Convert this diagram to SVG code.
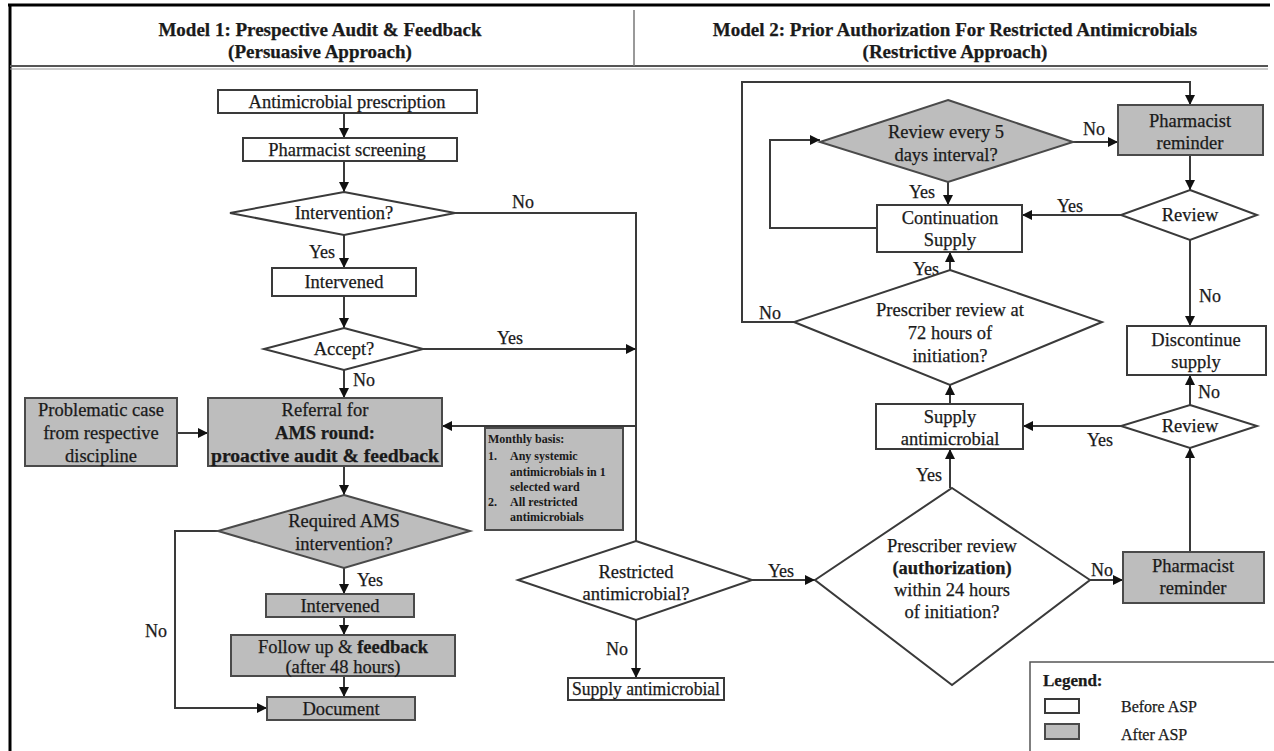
<svg xmlns="http://www.w3.org/2000/svg" width="1274" height="751" viewBox="0 0 1274 751">
<style>
  text{font-family:"Liberation Serif","Times New Roman",serif;fill:#1a1a1a;stroke:#1a1a1a;stroke-width:0.25}
  .t{font-size:18.5px;text-anchor:middle}
  .h{font-size:19px;font-weight:bold;text-anchor:middle}
  .lb{font-size:18px;text-anchor:middle}
  .s{font-size:12px;font-weight:bold;stroke-width:0}
  .b{font-weight:bold}
  .w{fill:#ffffff;stroke:#3a3a3a;stroke-width:2}
  .g{fill:#bdbdbd;stroke:#4a4a4a;stroke-width:2}
  .c{fill:none;stroke:#3a3a3a;stroke-width:2}
</style>
<defs>
  <marker id="ah" viewBox="0 0 10 10" refX="10" refY="5" markerWidth="5" markerHeight="5" orient="auto">
    <path d="M0,0 L10,5 L0,10 z" fill="#111"/>
  </marker>
</defs>
<rect x="0" y="0" width="1274" height="751" fill="#ffffff"/>
<g id="frame">
  <line x1="8" y1="5" x2="1270" y2="5" stroke="#000" stroke-width="3"/>
  <line x1="10" y1="5" x2="10" y2="751" stroke="#000" stroke-width="3"/>
  <line x1="10" y1="66" x2="1268" y2="66" stroke="#555" stroke-width="2"/>
  <line x1="10" y1="69" x2="1268" y2="69" stroke="#999" stroke-width="1"/>
  <line x1="634" y1="10" x2="634" y2="66" stroke="#777" stroke-width="1.5"/>
</g>
<g id="header1">
  <text class="h" x="320" y="36">Model 1: Prespective Audit &amp; Feedback</text>
  <text class="h" x="320" y="58">(Persuasive Approach)</text>
</g>
<g id="header2">
  <text class="h" x="955" y="36">Model 2: Prior Authorization For Restricted Antimicrobials</text>
  <text class="h" x="955" y="58">(Restrictive Approach)</text>
</g>

<g id="connectors">
  <path class="c" d="M344,113 V138" marker-end="url(#ah)"/>
  <path class="c" d="M344,161 V192" marker-end="url(#ah)"/>
  <path class="c" d="M344,235 V268" marker-end="url(#ah)"/>
  <path class="c" d="M455,213 H636 V541"/>
  <path class="c" d="M344,296 V328" marker-end="url(#ah)"/>
  <path class="c" d="M423,349 H636" marker-end="url(#ah)"/>
  <path class="c" d="M344,370 V398" marker-end="url(#ah)"/>
  <path class="c" d="M636,426 H442" marker-end="url(#ah)"/>
  <path class="c" d="M177,433 H208" marker-end="url(#ah)"/>
  <path class="c" d="M344,466 V495" marker-end="url(#ah)"/>
  <path class="c" d="M344,568 V594" marker-end="url(#ah)"/>
  <path class="c" d="M344,617 V635" marker-end="url(#ah)"/>
  <path class="c" d="M344,676 V697" marker-end="url(#ah)"/>
  <path class="c" d="M218,531 H175 V708 H267" marker-end="url(#ah)"/>
  <path class="c" d="M752,580 H815" marker-end="url(#ah)"/>
  <path class="c" d="M636,620 V678" marker-end="url(#ah)"/>
  <path class="c" d="M1090,580 H1123" marker-end="url(#ah)"/>
  <path class="c" d="M1190,552 V448" marker-end="url(#ah)"/>
  <path class="c" d="M1121,426 H1023" marker-end="url(#ah)"/>
  <path class="c" d="M1190,405 V375" marker-end="url(#ah)"/>
  <path class="c" d="M950,488 V449" marker-end="url(#ah)"/>
  <path class="c" d="M950,404 V385" marker-end="url(#ah)"/>
  <path class="c" d="M950,270 V252" marker-end="url(#ah)"/>
  <path class="c" d="M948,182 V205" marker-end="url(#ah)"/>
  <path class="c" d="M877,228 H770 V140 H820" marker-end="url(#ah)"/>
  <path class="c" d="M1073,142 H1118" marker-end="url(#ah)"/>
  <path class="c" d="M1190,155 V190" marker-end="url(#ah)"/>
  <path class="c" d="M1121,215 H1022" marker-end="url(#ah)"/>
  <path class="c" d="M1190,240 V326" marker-end="url(#ah)"/>
  <path class="c" d="M794,322 H742 V82 H1190 V105" marker-end="url(#ah)"/>
</g>

<g id="labels">
  <text class="lb" x="523" y="208">No</text>
  <text class="lb" x="322" y="258">Yes</text>
  <text class="lb" x="510" y="344">Yes</text>
  <text class="lb" x="364" y="386">No</text>
  <text class="lb" x="370" y="586">Yes</text>
  <text class="lb" x="156" y="637">No</text>
  <text class="lb" x="781" y="577">Yes</text>
  <text class="lb" x="617" y="655">No</text>
  <text class="lb" x="1102" y="576">No</text>
  <text class="lb" x="929" y="481">Yes</text>
  <text class="lb" x="1100" y="446">Yes</text>
  <text class="lb" x="1209" y="398">No</text>
  <text class="lb" x="926" y="275">Yes</text>
  <text class="lb" x="922" y="198">Yes</text>
  <text class="lb" x="1094" y="135">No</text>
  <text class="lb" x="1070" y="212">Yes</text>
  <text class="lb" x="1210" y="302">No</text>
  <text class="lb" x="770" y="319">No</text>
</g>

<g id="n-prescription">
  <rect class="w" x="218" y="90" width="259" height="23"/>
  <text class="t" x="347" y="108">Antimicrobial prescription</text>
</g>
<g id="n-screening">
  <rect class="w" x="243" y="138" width="214" height="23"/>
  <text class="t" x="347" y="156">Pharmacist screening</text>
</g>
<g id="n-intervention">
  <polygon class="w" points="344,192 455,213 344,235 230,213"/>
  <text class="t" x="344" y="219">Intervention?</text>
</g>
<g id="n-intervened1">
  <rect class="w" x="272" y="268" width="144" height="28"/>
  <text class="t" x="344" y="288">Intervened</text>
</g>
<g id="n-accept">
  <polygon class="w" points="344,328 423,349 344,370 264,349"/>
  <text class="t" x="344" y="355">Accept?</text>
</g>
<g id="n-problematic">
  <rect class="g" x="25" y="398" width="152" height="68"/>
  <text class="t" x="101" y="416">Problematic case</text>
  <text class="t" x="101" y="439">from respective</text>
  <text class="t" x="101" y="462">discipline</text>
</g>
<g id="n-referral">
  <rect class="g" x="208" y="398" width="234" height="68"/>
  <text class="t" x="325" y="416">Referral for</text>
  <text class="t b" x="325" y="439">AMS round:</text>
  <text class="t b" x="325" y="462" textLength="228" lengthAdjust="spacingAndGlyphs">proactive audit &amp; feedback</text>
</g>
<g id="n-monthly">
  <rect class="g" x="485" y="428" width="138" height="102" stroke-width="1.5"/>
  <text class="s" x="488" y="443">Monthly basis:</text>
  <text class="s" x="488" y="460">1.</text>
  <text class="s" x="510" y="460">Any systemic</text>
  <text class="s" x="510" y="476">antimicrobials in 1</text>
  <text class="s" x="510" y="491">selected ward</text>
  <text class="s" x="488" y="506">2.</text>
  <text class="s" x="510" y="506">All restricted</text>
  <text class="s" x="510" y="521">antimicrobials</text>
</g>
<g id="n-required">
  <polygon class="g" points="344,495 470,531 344,568 218,531"/>
  <text class="t" x="344" y="527">Required AMS</text>
  <text class="t" x="344" y="550">intervention?</text>
</g>
<g id="n-intervened2">
  <rect class="g" x="266" y="594" width="148" height="23"/>
  <text class="t" x="340" y="612">Intervened</text>
</g>
<g id="n-followup">
  <rect class="g" x="231" y="635" width="224" height="41"/>
  <text class="t" x="343" y="653">Follow up &amp; <tspan class="b">feedback</tspan></text>
  <text class="t" x="343" y="673">(after 48 hours)</text>
</g>
<g id="n-document">
  <rect class="g" x="267" y="697" width="148" height="23"/>
  <text class="t" x="341" y="715">Document</text>
</g>

<g id="n-restricted">
  <polygon class="w" points="636,541 752,580 636,620 518,580"/>
  <text class="t" x="636" y="578">Restricted</text>
  <text class="t" x="636" y="600">antimicrobial?</text>
</g>
<g id="n-supply-left">
  <rect class="w" x="568" y="678" width="156" height="22"/>
  <text class="t" x="646" y="695" textLength="148" lengthAdjust="spacingAndGlyphs">Supply antimicrobial</text>
</g>
<g id="n-auth">
  <polygon class="w" points="952,488 1090,580 952,685 815,580"/>
  <text class="t" x="952" y="552">Prescriber review</text>
  <text class="t b" x="952" y="574">(authorization)</text>
  <text class="t" x="952" y="596">within 24 hours</text>
  <text class="t" x="952" y="618">of initiation?</text>
</g>
<g id="n-reminder-bottom">
  <rect class="g" x="1123" y="552" width="141" height="51"/>
  <text class="t" x="1193" y="572">Pharmacist</text>
  <text class="t" x="1193" y="594">reminder</text>
</g>
<g id="n-review-bottom">
  <polygon class="w" points="1190,405 1257,426 1190,448 1121,426"/>
  <text class="t" x="1190" y="432">Review</text>
</g>
<g id="n-supply-right">
  <rect class="w" x="876" y="404" width="147" height="45"/>
  <text class="t" x="950" y="423">Supply</text>
  <text class="t" x="950" y="445">antimicrobial</text>
</g>
<g id="n-discontinue">
  <rect class="w" x="1127" y="326" width="139" height="49"/>
  <text class="t" x="1196" y="346">Discontinue</text>
  <text class="t" x="1196" y="368">supply</text>
</g>
<g id="n-72h">
  <polygon class="w" points="950,270 1102,322 950,385 794,322"/>
  <text class="t" x="950" y="316">Prescriber review at</text>
  <text class="t" x="950" y="339">72 hours of</text>
  <text class="t" x="950" y="362">initiation?</text>
</g>
<g id="n-continuation">
  <rect class="w" x="877" y="205" width="145" height="47"/>
  <text class="t" x="950" y="224">Continuation</text>
  <text class="t" x="950" y="246">Supply</text>
</g>
<g id="n-review5">
  <polygon class="g" points="948,100 1073,142 948,182 820,142"/>
  <text class="t" x="946" y="138">Review every 5</text>
  <text class="t" x="946" y="161">days interval?</text>
</g>
<g id="n-reminder-top">
  <rect class="g" x="1118" y="105" width="145" height="50"/>
  <text class="t" x="1190" y="127">Pharmacist</text>
  <text class="t" x="1190" y="149">reminder</text>
</g>
<g id="n-review-top">
  <polygon class="w" points="1190,190 1257,215 1190,240 1121,215"/>
  <text class="t" x="1190" y="221">Review</text>
</g>

<g id="legend">
  <rect x="1030" y="662" width="260" height="100" fill="#fff" stroke="#555" stroke-width="1.5"/>
  <text x="1043" y="686" font-size="17px" font-weight="bold">Legend:</text>
  <rect class="w" x="1045" y="699" width="34" height="14" stroke-width="1.5"/>
  <text x="1121" y="712" font-size="16px">Before ASP</text>
  <rect class="g" x="1045" y="724" width="34" height="15" fill="#9a9a9a" stroke-width="1.5"/>
  <text x="1121" y="740" font-size="16px">After ASP</text>
</g>
</svg>
